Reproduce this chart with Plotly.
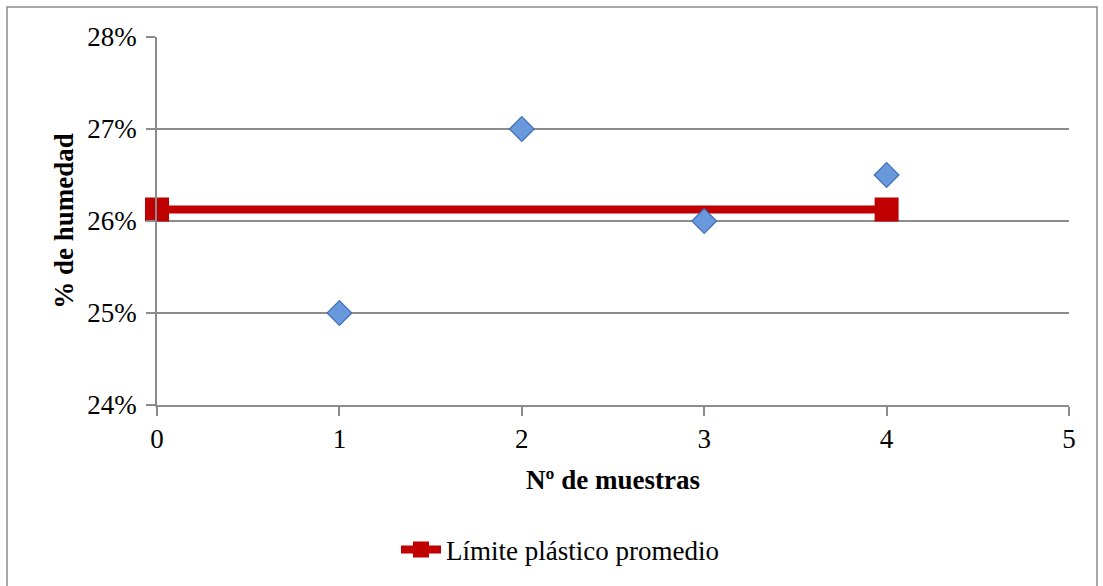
import plotly.graph_objects as go

muestras = [1, 2, 3, 4]
humedad = [0.25, 0.27, 0.26, 0.265]
limite_x = [0, 4]
limite_y = [0.26125, 0.26125]
y_ticks = [0.24, 0.25, 0.26, 0.27, 0.28]
y_labels = ["24%", "25%", "26%", "27%", "28%"]
x_ticks = [0, 1, 2, 3, 4, 5]

W, H = 1103, 586
L, R, T, B = 157, 34, 37, 181
pw, ph = W - L - R, H - T - B

def px(x):
    return (x - L) / pw

def py(y):
    return (H - B - y) / ph

font = "Liberation Serif, DejaVu Serif, serif"
FS = 27

fig = go.Figure()
fig.add_trace(go.Scatter(
    x=limite_x, y=limite_y, mode="lines+markers",
    name="Límite plástico promedio",
    line=dict(color="#C00000", width=8),
    marker=dict(symbol="square", size=24, color="#C00000"),
    cliponaxis=False,
))
fig.add_trace(go.Scatter(
    x=muestras, y=humedad, mode="markers", showlegend=False,
    marker=dict(symbol="diamond", size=19, color="#6A98DC",
                line=dict(color="#3F6FB5", width=1.2)),
    cliponaxis=False,
))

fig.update_layout(
    width=W, height=H,
    margin=dict(l=L, r=R, t=T, b=B),
    paper_bgcolor="white", plot_bgcolor="white",
    font=dict(family=font, size=FS, color="black"),
    showlegend=True,
    legend=dict(orientation="h", x=px(560), xanchor="center", y=py(550), yanchor="middle",
                font=dict(size=FS), itemwidth=40, bgcolor="rgba(0,0,0,0)"),
    xaxis=dict(range=[0, 5], tickvals=x_ticks, showgrid=False, zeroline=False,
               showline=True, linecolor="#8C8C8C", linewidth=1.5,
               ticks="outside", ticklen=9, tickcolor="#8C8C8C", tickwidth=1.5,
               title=dict(text="<b>Nº de muestras</b>", font=dict(size=FS), standoff=17)),
    yaxis=dict(range=[0.24, 0.28], tickvals=y_ticks, ticktext=y_labels,
               showgrid=True, gridcolor="#8C8C8C", gridwidth=1.5, zeroline=False,
               showline=True, linecolor="#8C8C8C", linewidth=1.5,
               ticks="outside", ticklen=9, tickcolor="#8C8C8C", tickwidth=1.5,
               ticklabelstandoff=4,
               title=dict(text="<b>% de humedad</b>", font=dict(size=FS), standoff=6)),
    shapes=[dict(type="rect", xref="paper", yref="paper",
                 x0=px(7), x1=px(1097), y0=py(7), y1=py(620),
                 line=dict(color="#8C8C8C", width=1.5), layer="below")],
)

fig.write_html("out.html", config={"displayModeBar": False},
               post_script="document.body.style.margin='0';document.body.style.overflow='hidden';")
